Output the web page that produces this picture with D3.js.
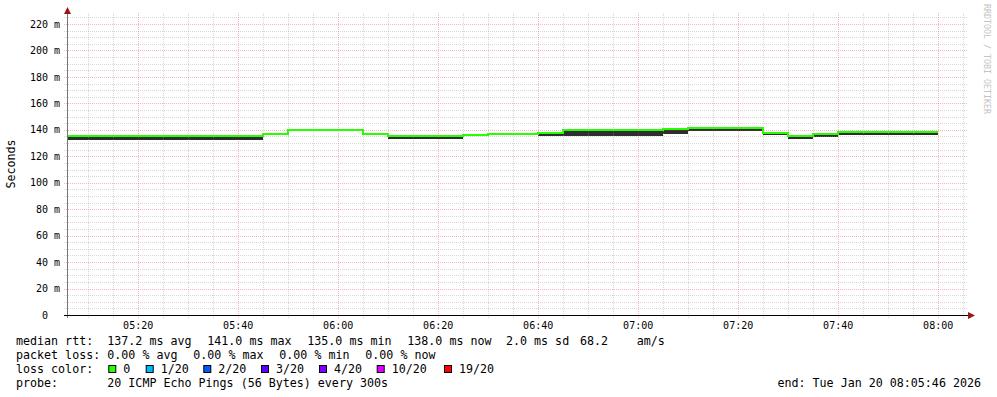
<!DOCTYPE html>
<html><head><meta charset="utf-8">
<script src="https://cdn.jsdelivr.net/npm/d3@7"></script>
<style>
html,body{margin:0;padding:0;background:#fff;}
svg{display:block;font-family:"DejaVu Sans Mono",monospace;}
text{white-space:pre;}
</style></head><body>
<svg id="c" width="997" height="397"></svg>
<script>
// ---------- data ----------
const stepStarts = ["05:05","05:10","05:15","05:20","05:25","05:30","05:35","05:40",
  "05:45","05:50","05:55","06:00","06:05","06:10","06:15","06:20","06:25","06:30",
  "06:35","06:40","06:45","06:50","06:55","07:00","07:05","07:10","07:15","07:20",
  "07:25","07:30","07:35","07:40","07:45","07:50","07:55"];
const dataEnd = "08:00";
const median = [135,135,135,135,135,135,135,135,
  137,139.5,139.5,139.5,137,135,135,135,136.3,136.8,
  136.8,137.8,139.5,139.5,139.5,139.5,140.4,141,141,141,
  137.9,135,136.7,138,138,138,138];
const smokeLow = [132.6,132.6,132.6,132.6,132.6,132.6,132.6,132.6,
  136.5,139,139,139,136.3,132.8,132.8,132.8,135,136.3,
  136.3,135.3,135,135,135,135,136.5,138.9,138.9,138.9,
  135.8,132.8,134.6,135.8,135.8,135.8,135.8];
const viewStart = "2026-01-20 05:05:46";
const viewEnd = "2026-01-20 08:05:46";
const yTicks = [0,20,40,60,80,100,120,140,160,180,200,220];
const yTickLabels = ["0\u00a0\u00a0","20 m","40 m","60 m","80 m","100 m","120 m","140 m","160 m","180 m","200 m","220 m"];
const yLabel = "Seconds";
const rttStats = ["137.2 ms avg","141.0 ms max","135.0 ms min","138.0 ms now","2.0 ms sd","68.2","am/s"];
const lossStats = ["0.00 % avg","0.00 % max","0.00 % min","0.00 % now"];
const lossLabels = ["0","1/20","2/20","3/20","4/20","10/20","19/20"];
const lossColors = ["#26ff00","#00b8ff","#0059ff","#5e00ff","#7e00ff","#dd00ff","#ff0000"];
const probeText = "20 ICMP Echo Pings (56 Bytes) every 300s";
const endText = "end: Tue Jan 20 08:05:46 2026";
const watermark = "RRDTOOL / TOBI OETIKER";

// ---------- layout ----------
const L = 67, R = 967, B = 315, T = 13;
const svg = d3.select("#c");
const parseT = d3.utcParse("%Y-%m-%d %H:%M:%S");
const parseHM = s => parseT("2026-01-20 " + s + ":00");
const x = d3.scaleUtc().domain([parseT(viewStart), parseT(viewEnd)]).range([L, R]);
const y = d3.scaleLinear().domain([0, 220]).range([B, 24]);
const ry = v => Math.round(y(v));
const rx = t => Math.round(x(t));

svg.append("defs").append("clipPath").attr("id","clip")
  .append("rect").attr("x",L+1).attr("y",T).attr("width",R-L).attr("height",B-T);

// data
const pts = stepStarts.map((s,i)=>({t:parseHM(s), lo:smokeLow[i], med:median[i]}));
pts.push({t:parseHM(dataEnd), lo:smokeLow[smokeLow.length-1], med:median[median.length-1]});
const g = svg.append("g").attr("clip-path","url(#clip)").attr("shape-rendering","crispEdges");
g.append("path").datum(pts)
  .attr("d", d3.area().curve(d3.curveStepAfter).x(d=>rx(d.t)).y0(d=>ry(d.lo)).y1(d=>ry(d.med)))
  .attr("fill","#2e2e2e");

// grid (drawn over smoke, translucent)
const minorC = "rgba(150,150,150,0.38)", majorC = "rgba(215,60,60,0.36)";
const gy = svg.append("g").attr("shape-rendering","crispEdges");
const yMinor = d3.range(5, 229, 5).filter(v => v % 20 !== 0);
const yMajor = yTicks.filter(v => v > 0);
gy.selectAll(".ym").data(yMinor).join("line")
  .attr("x1",L-3).attr("x2",R+1).attr("y1",d=>ry(d)+0.5).attr("y2",d=>ry(d)+0.5)
  .attr("stroke",minorC).attr("stroke-dasharray","1,1");
gy.selectAll(".yM").data(yMajor).join("line")
  .attr("x1",L-3).attr("x2",R+1).attr("y1",d=>ry(d)+0.5).attr("y2",d=>ry(d)+0.5)
  .attr("stroke",majorC).attr("stroke-dasharray","1,1");
const allMin = d3.utcMinute.every(5).range(x.domain()[0], x.domain()[1]);
const xMinor = allMin.filter(d => d.getUTCMinutes() % 20 !== 0);
const xMajor = d3.utcMinute.every(20).range(x.domain()[0], x.domain()[1]);
gy.selectAll(".xm").data(xMinor).join("line")
  .attr("y1",B+3).attr("y2",T).attr("x1",d=>rx(d)+0.5).attr("x2",d=>rx(d)+0.5)
  .attr("stroke",minorC).attr("stroke-dasharray","1,1");
gy.selectAll(".xM").data(xMajor).join("line")
  .attr("y1",B+3).attr("y2",T).attr("x1",d=>rx(d)+0.5).attr("x2",d=>rx(d)+0.5)
  .attr("stroke",majorC).attr("stroke-dasharray","1,1");

// median line on top
svg.append("g").attr("clip-path","url(#clip)").append("path").datum(pts)
  .attr("d", d3.line().curve(d3.curveStepAfter).x(d=>rx(d.t)).y(d=>ry(d.med)))
  .attr("fill","none").attr("stroke","#26ff00").attr("stroke-width",2)
  .attr("shape-rendering","crispEdges");

// axes
svg.append("line").attr("x1",L+0.5).attr("x2",L+0.5).attr("y1",B+3).attr("y2",11).attr("stroke","#777");
svg.append("line").attr("x1",L-3).attr("x2",R+2).attr("y1",B+0.5).attr("y2",B+0.5).attr("stroke","#000");
const arrowC = "#9a1616";
svg.append("path").attr("d",`M${L+0.5-3.5},${14}L${L+0.5},${7}L${L+0.5+3.5},${14}Z`).attr("fill",arrowC);
svg.append("path").attr("d",`M${R+1},${B+0.5-3.5}L${R+8},${B+0.5}L${R+1},${B+0.5+3.5}Z`).attr("fill",arrowC);

// tick labels
svg.append("g").selectAll("text").data(yTicks).join("text")
  .attr("x",60).attr("y",d=>y(d)+3.6).attr("text-anchor","end")
  .attr("font-size","10px").attr("fill","#000").text((d,i)=>yTickLabels[i]);
svg.append("g").selectAll("text").data(xMajor).join("text")
  .attr("x",d=>x(d)).attr("y",329).attr("text-anchor","middle")
  .attr("font-size","10px").attr("fill","#000").text(d3.utcFormat("%H:%M"));

svg.append("text").attr("transform","translate(15,164) rotate(-90)").attr("text-anchor","middle")
  .attr("font-size","11.66px").attr("fill","#000").text(yLabel);
svg.append("text").attr("transform","translate(984,4) rotate(90)")
  .attr("font-size","8.3px").attr("fill","#c4c4c4").text(watermark);

// legend
const fs = "11.66px";
const leg = svg.append("g").attr("font-size",fs).attr("fill","#000");
const row = (yy, items) => items.forEach(([tx, s]) => leg.append("text").attr("x",tx).attr("y",yy).text(s));
const rttX = [107.3,207.3,307.3,407.3,506,580,636.7];
row(345, [[16,"median rtt:"]].concat(rttStats.map((s,i)=>[rttX[i], s])));
const lossX = [107.3,193.3,279.3,365.3];
row(359, [[16,"packet loss:"]].concat(lossStats.map((s,i)=>[lossX[i], s])));
row(373, [[16,"loss color:"]]);
const boxX = [108.3,145.7,203.3,261,319,376.7,444];
lossLabels.forEach((lab,i)=>{
  leg.append("rect").attr("x",boxX[i]+0.5).attr("y",365.5).attr("width",7).attr("height",7)
    .attr("fill",lossColors[i]).attr("stroke","#000").attr("stroke-width",1);
  leg.append("text").attr("x",boxX[i]+15).attr("y",373).text(lab);
});
row(387, [[16,"probe:"],[107.3,probeText]]);
leg.append("text").attr("x",981).attr("y",387).attr("text-anchor","end").text(endText);
</script>
</body></html>
